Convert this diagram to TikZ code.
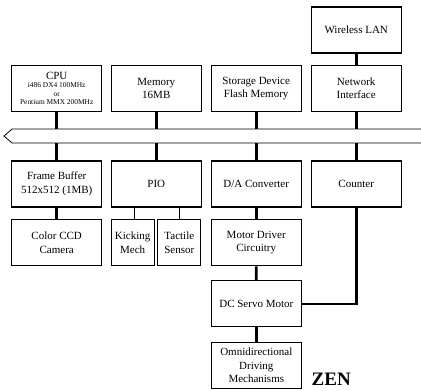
\documentclass[tikz,border=0pt]{standalone}
\usepackage{fontspec}
\setmainfont{Liberation Serif}
\usetikzlibrary{positioning}

\tikzset{
  blk/.style={draw, line width=1.1pt, minimum width=90pt, minimum height=46pt,
    align=center, inner sep=1pt, font=\fontsize{11}{13.5}\selectfont},
  narrowblk/.style={blk, minimum width=43pt},
  cpublk/.style={blk, font=\fontsize{7.4}{8.6}\selectfont},
  link/.style={line width=2.6pt},
  thinlink/.style={line width=1.6pt},
  buswire/.style={line width=0.8pt}
}

\begin{document}
\begin{tikzpicture}[x=1pt, y=-1pt]

        \useasboundingbox (0, 0) rectangle (421, 391);

        % top row
        \node[blk] (wlan) at (356.2, 30) {Wireless LAN};

        \node[cpublk] (cpu) at (56.7, 88.3) {{\fontsize{11}{11}\selectfont CPU}\\
            i486 DX4 100MHz\\ or\\ Pentium MMX 200MHz};

        \node[blk] (mem) at (156.3, 88.3) {Memory\\16MB};

        \node[blk] (store) at (256.2, 88.3) {Storage Device\\Flash Memory};

        \node[blk] (net) at (356.2, 88.3) {Network\\Interface};

        % bus
        \coordinate (busT) at (0, 129);
        \coordinate (busB) at (0, 143);

        \draw[buswire] (421, 129) -- (12, 129) -- (4, 136) -- (12, 143) -- (421, 143);

        % row below the bus
        \node[blk] (fbuf) at (56.7, 184) {Frame Buffer\\512x512 (1MB)};

        \node[blk] (pio) at (156.3, 184) {PIO};

        \node[blk] (dac) at (256.2, 184) {D/A Converter};

        \node[blk] (cnt) at (356.2, 184) {Counter};

        \node[blk] (ccd) at (56.7, 242.7) {Color CCD\\Camera};

        \node[narrowblk] (kick) at (132.7, 242.7) {Kicking\\Mech};

        \node[narrowblk] (tact) at (179.3, 242.7) {Tactile\\Sensor};

        \node[blk] (mdrv) at (256.2, 242.7) {Motor Driver\\Circuitry};

        \node[blk] (servo) at (256.3, 303.8) {DC Servo Motor};

        \node[blk] (omni) at (256.3, 365.3) {Omnidirectional\\Driving\\Mechanisms};

        \node[font=\fontsize{19}{19}\selectfont\bfseries, anchor=base west, inner sep=0] (zen) at (311.5, 385) {ZEN};

        % connectors
        \draw[link] (wlan) -- (net);

        \foreach \n in {cpu, mem, store, net} {
            \draw[link] (\n) -- (\n |- busT);
        }

        \foreach \n in {fbuf, pio, dac, cnt} {
            \draw[link] (\n |- busB) -- (\n);
        }

        \draw[link] (fbuf) -- (ccd);

        \draw[link] (dac) -- (mdrv);

        \draw[link] (mdrv) -- (servo);

        \draw[link] (servo) -- (omni);

        \draw[link] (cnt.south) |- (servo.east);

        \draw[thinlink] ([xshift=1.6pt]kick.north) -- ([xshift=1.6pt]kick.north |- pio.south);

        \draw[thinlink] (tact.north) -- (tact.north |- pio.south);

\end{tikzpicture}
\end{document}
